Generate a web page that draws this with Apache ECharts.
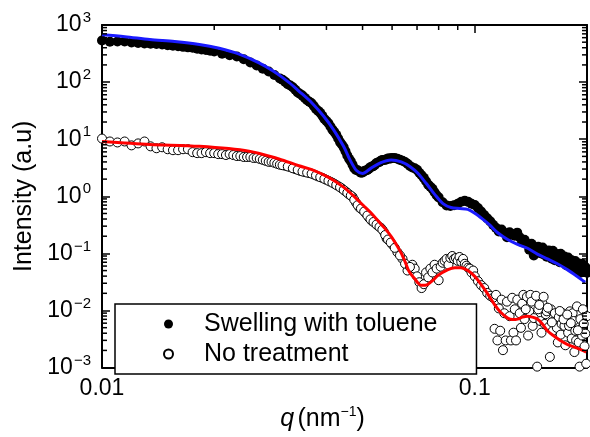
<!DOCTYPE html>
<html>
<head>
<meta charset="utf-8">
<script src="https://cdn.jsdelivr.net/npm/echarts@6/dist/echarts.min.js"></script>
<style>
html, body { margin: 0; padding: 0; background: #fff; }
#chart { width: 590px; height: 437px; }
</style>
</head>
<body>
<div id="chart"></div>
<script>
// swelling with toluene (filled circles)
var qSwell = [0.0100, 0.0105, 0.0110, 0.0115, 0.0120, 0.0125, 0.0130, 0.0135, 0.0140, 0.0145, 0.0150, 0.0155, 0.0160, 0.0165, 0.0170, 0.0175, 0.0180, 0.0185, 0.0190, 0.0195, 0.0200,
    0.021, 0.022, 0.023, 0.024, 0.025, 0.026, 0.027, 0.028, 0.029, 0.030, 0.031, 0.032, 0.033, 0.034, 0.035, 0.036, 0.037, 0.038, 0.039, 0.040,
    0.041, 0.042, 0.043, 0.044, 0.045, 0.046, 0.047, 0.048, 0.049, 0.050, 0.051, 0.052, 0.053, 0.054, 0.055, 0.056, 0.057, 0.058, 0.059, 0.060,
    0.062, 0.064, 0.066, 0.068, 0.070, 0.072, 0.074, 0.076, 0.078, 0.080, 0.082, 0.084, 0.086, 0.088, 0.090, 0.092, 0.094, 0.096, 0.098, 0.100,
    0.102, 0.104, 0.106, 0.108, 0.110, 0.112, 0.114, 0.116, 0.118, 0.120, 0.122, 0.124, 0.126, 0.128, 0.130, 0.132, 0.134, 0.136, 0.138, 0.140,
    0.141, 0.142, 0.144, 0.146, 0.147, 0.148, 0.150, 0.152, 0.153, 0.154, 0.156, 0.157, 0.158, 0.160, 0.161, 0.162, 0.164, 0.165, 0.166, 0.168,
    0.169, 0.170, 0.172, 0.173, 0.174, 0.176, 0.177, 0.178, 0.180, 0.181, 0.182, 0.184, 0.185, 0.186, 0.188, 0.189, 0.190, 0.192, 0.193, 0.194,
    0.196, 0.197, 0.198, 0.200];
var iSwell = [535, 510, 514, 515, 494, 485, 475, 471, 464, 454, 443, 433, 423, 414, 406, 399, 383, 372, 364, 353, 344,
    314, 296, 280, 251, 221, 195, 172, 153, 133, 116, 101, 87.3, 73.2, 61.8, 52.9, 45.4, 38.1, 31.3, 25.7, 20.8,
    16.7, 13.4, 10.3, 8.08, 6.14, 4.55, 3.57, 2.90, 2.72, 2.61, 2.83, 3.05, 3.31, 3.59, 3.90, 4.20, 4.32, 4.46, 4.60, 4.69,
    4.56, 4.20, 3.71, 3.19, 2.92, 2.34, 1.83, 1.47, 1.18, 0.957, 0.787, 0.691, 0.675, 0.700, 0.739, 0.805, 0.838, 0.799, 0.742, 0.702,
    0.624, 0.540, 0.469, 0.411, 0.364, 0.316, 0.280, 0.241, 0.263, 0.230, 0.192, 0.234, 0.219, 0.204, 0.231, 0.191, 0.157, 0.174, 0.147, 0.116,
    0.135, 0.147, 0.0917, 0.121, 0.105, 0.131, 0.1004, 0.127, 0.096, 0.106, 0.0872, 0.101, 0.112, 0.0896, 0.081, 0.111, 0.0760, 0.089, 0.0976, 0.0775,
    0.070, 0.0984, 0.0777, 0.085, 0.0879, 0.0618, 0.068, 0.0848, 0.0623, 0.071, 0.0760, 0.0537, 0.060, 0.0737, 0.0522, 0.064, 0.0668, 0.0457, 0.052, 0.0658,
    0.0470, 0.054, 0.0578, 0.0460];
// extra filled points where the band is steep and dense
var qSwellDense = [0.0305, 0.0315, 0.0325, 0.0335, 0.0345, 0.0355, 0.0365, 0.0375, 0.0385, 0.0395, 0.0405, 0.0415, 0.0425, 0.0435, 0.0445,
    0.0455, 0.0465, 0.0475, 0.0485, 0.0495, 0.0505, 0.0515, 0.0525, 0.0535, 0.0545, 0.0555, 0.0565, 0.0575, 0.0585, 0.0595,
    0.061, 0.063, 0.065, 0.067, 0.069, 0.071, 0.073, 0.075, 0.077, 0.079];
var iSwellDense = [110, 92, 81, 66, 58, 48, 42.5, 33.8, 29.0, 22.6, 19.0, 14.7, 12.0, 8.9, 7.2,
    5.2, 4.1, 3.1, 2.85, 2.58, 2.76, 2.88, 3.24, 3.40, 3.82, 4.00, 4.34, 4.35, 4.60, 4.60,
    4.70, 4.35, 4.00, 3.40, 3.10, 2.58, 2.10, 1.60, 1.35, 1.04];

// no treatment (open circles)
var qNoTreat = [0.0100, 0.0105, 0.0110, 0.0115, 0.0120, 0.0125, 0.0130, 0.0135, 0.0140, 0.0145, 0.0150, 0.0155, 0.0160, 0.0165, 0.0170, 0.0175, 0.0180, 0.0185, 0.0190, 0.0195, 0.0200,
    0.0205, 0.0210, 0.0215, 0.0220, 0.0225, 0.0230, 0.0235, 0.0240, 0.0245, 0.0250, 0.0255, 0.0260, 0.0265, 0.0270, 0.0275, 0.0280, 0.0285, 0.0290, 0.0295, 0.0300,
    0.031, 0.032, 0.033, 0.034, 0.035, 0.036, 0.037, 0.038, 0.039, 0.040, 0.041, 0.042, 0.043, 0.044, 0.045, 0.046, 0.047, 0.048, 0.049, 0.050,
    0.051, 0.052, 0.053, 0.054, 0.055, 0.056, 0.057, 0.058, 0.059, 0.060,
    0.062, 0.064, 0.066, 0.068, 0.069, 0.070, 0.071, 0.072, 0.073, 0.074, 0.075, 0.076, 0.077, 0.078, 0.079, 0.080, 0.081, 0.082, 0.083, 0.084,
    0.085, 0.086, 0.087, 0.088, 0.089, 0.090, 0.091, 0.092, 0.093, 0.094, 0.095, 0.096, 0.097, 0.098, 0.099, 0.100, 0.102, 0.104, 0.106, 0.108, 0.110,
    0.112, 0.113, 0.114, 0.115, 0.116, 0.117, 0.118, 0.119, 0.120, 0.121, 0.122, 0.124, 0.125, 0.126, 0.127, 0.128, 0.129, 0.130, 0.132, 0.133,
    0.134, 0.135, 0.136, 0.138, 0.139, 0.140, 0.141, 0.142, 0.143, 0.144, 0.146, 0.147, 0.148, 0.150, 0.151, 0.152, 0.153, 0.154, 0.155, 0.156,
    0.158, 0.159, 0.160, 0.162, 0.163, 0.164, 0.166, 0.167, 0.168, 0.170, 0.171, 0.172, 0.174, 0.175, 0.176, 0.178, 0.179, 0.180, 0.182, 0.183,
    0.184, 0.185, 0.186, 0.187, 0.188, 0.190, 0.191, 0.192, 0.193, 0.194, 0.195, 0.196, 0.197, 0.198, 0.199, 0.200];
var iNoTreat = [10.26, 9.12, 8.77, 9.12, 7.80, 8.44, 9.12, 7.50, 6.94, 7.22, 6.67, 6.42, 6.42, 6.67, 6.67, 5.93, 5.70, 5.70, 5.93, 5.70, 5.70,
    5.48, 5.48, 5.28, 5.48, 5.28, 5.07, 5.07, 4.88, 4.88, 4.88, 4.69, 4.69, 4.51, 4.34, 4.17, 4.01, 4.01, 3.86, 3.71, 3.57,
    3.43, 3.23, 2.99, 2.79, 2.66, 2.56, 2.41, 2.23, 2.10, 1.94, 1.80, 1.66, 1.51, 1.37, 1.22, 1.08, 0.980, 0.775, 0.637, 0.578,
    0.504, 0.423, 0.368, 0.341, 0.303, 0.280, 0.240, 0.182, 0.168, 0.144,
    0.105, 0.0801, 0.0501, 0.0633, 0.0541, 0.0396, 0.0313, 0.0247, 0.0289, 0.0463, 0.0381, 0.0541, 0.0463, 0.0633, 0.0541, 0.0339, 0.0585, 0.0685, 0.0741, 0.0801,
    0.0633, 0.0833, 0.0901, 0.0801, 0.0833, 0.0741, 0.0866, 0.0712, 0.0801, 0.0658, 0.0609, 0.0563, 0.0541, 0.0463, 0.0501, 0.0396, 0.0326, 0.0278, 0.0247, 0.0203, 0.0181,
    0.0167, 0.00478, 0.0188, 0.00299, 0.0109, 0.00442, 0.0155, 0.00202, 0.00895, 0.00299, 0.0143, 0.00796, 0.00299, 0.0167, 0.00409, 0.0105, 0.00299, 0.0155, 0.00895, 0.00497,
    0.0132, 0.0188, 0.00707, 0.0174, 0.00364, 0.00967, 0.0188, 0.0143, 0.00538, 0.00736, 0.0181, 0.00104, 0.0105, 0.00654, 0.00409, 0.0132, 0.0174, 0.00582, 0.00860, 0.00967,
    0.00517, 0.00154, 0.0105, 0.00442, 0.00654, 0.00895, 0.00497, 0.00276, 0.00765, 0.00378, 0.00582, 0.00895, 0.00538, 0.00246, 0.00707, 0.00409, 0.00538, 0.00967, 0.00323, 0.00895,
    0.00654, 0.00187, 0.00442, 0.00299, 0.0118, 0.00276, 0.00104, 0.00707, 0.00478, 0.00364, 0.0105, 0.00582, 0.00236, 0.00393, 0.00117, 0.00796];
// extra open points where the data are dense
var qNoTreatDense = [0.0305, 0.0315, 0.0325, 0.0335, 0.0345, 0.0355, 0.0365, 0.0375, 0.0385, 0.0395, 0.0405, 0.0415, 0.0425, 0.0435, 0.0445,
    0.0455, 0.0465, 0.0475, 0.0485, 0.0495, 0.0505, 0.0515, 0.0525, 0.0535, 0.0545, 0.0555, 0.0565, 0.0575, 0.0585, 0.0595,
    0.061, 0.063, 0.065, 0.067, 0.137, 0.149, 0.157, 0.161, 0.169, 0.173, 0.177, 0.181, 0.189];
var iNoTreatDense = [3.50, 3.33, 3.10, 2.90, 2.72, 2.60, 2.49, 2.32, 2.16, 2.02, 1.87, 1.73, 1.58, 1.44, 1.29,
    1.15, 1.03, 0.87, 0.70, 0.61, 0.54, 0.46, 0.395, 0.355, 0.32, 0.29, 0.26, 0.21, 0.175, 0.155,
    0.125, 0.092, 0.066, 0.058, 0.0105, 0.0125, 0.0112, 0.0062, 0.0098, 0.0070, 0.0085, 0.0060, 0.0045];

// fitted curves
var qSwellFit = [0.0100, 0.01152, 0.01343, 0.01566, 0.01825, 0.02063, 0.02333, 0.02638, 0.02893, 0.03172, 0.03373, 0.03653, 0.03933, 0.04182, 0.04446,
    0.04642, 0.04817, 0.04997, 0.05248, 0.0558, 0.0597, 0.06349, 0.0671, 0.07047, 0.07402, 0.07823, 0.08217, 0.0863, 0.0912, 0.0958,
    0.1, 0.105, 0.1096, 0.1152, 0.1225, 0.1302, 0.1385, 0.1472, 0.1566, 0.1665, 0.177, 0.1883, 0.1977];
var iSwellFit = [676, 625, 556, 514, 457, 391, 309, 217, 153, 99, 69.8, 43.6, 25.2, 14.6, 7.5,
    4.17, 2.82, 2.51, 3.05, 3.86, 4.34, 4.01, 3.30, 2.51, 1.69, 1.06, 0.745, 0.637, 0.612, 0.589,
    0.504, 0.398, 0.315, 0.230, 0.175, 0.144, 0.123, 0.0973, 0.080, 0.0658, 0.052, 0.0395, 0.0313];
var qNoTreatFit = [0.0100, 0.01343, 0.01825, 0.02481, 0.02984, 0.03373, 0.03653, 0.04055, 0.04446, 0.04727, 0.05026, 0.05248, 0.05511, 0.05754, 0.05970,
    0.06155, 0.06349, 0.06504, 0.06626, 0.06750, 0.06918, 0.07047, 0.07178, 0.07356, 0.07493, 0.07727, 0.07967, 0.08472, 0.08846, 0.09178,
    0.0958, 0.1, 0.1038, 0.1083, 0.1130, 0.1173, 0.1225, 0.1263, 0.1302, 0.1343, 0.1385, 0.1428, 0.1472, 0.1518, 0.1566, 0.1624, 0.1696, 0.1770, 0.1883, 0.1990];
var iNoTreatFit = [9.12, 8.11, 7.50, 6.17, 4.51, 3.43, 2.93, 2.14, 1.45, 1.02, 0.689, 0.524, 0.368, 0.269, 0.197,
    0.144, 0.1013, 0.0712, 0.0521, 0.0428, 0.0352, 0.0301, 0.0278, 0.0278, 0.0289, 0.0339, 0.0412, 0.0521, 0.0563, 0.0563,
    0.0501, 0.0396, 0.0289, 0.0196, 0.0127, 0.00930, 0.00736, 0.00694, 0.00707, 0.00765, 0.00796, 0.00765, 0.00707, 0.00582, 0.00442, 0.00364, 0.00299, 0.00256, 0.00219, 0.00187];

var xRange = [0.01, 0.2];
var yRange = [0.001, 1000];
var minorSteps = [2, 3, 4, 5, 6, 7, 8, 9];
var seriesNames = ['Swelling with toluene', 'No treatment'];

var FONT = '"Liberation Sans", Arial, sans-serif';
var chart = echarts.init(document.getElementById('chart'));

function pairs(q, v) {
    return q.map(function (x, k) { return [x, v[k]]; });
}
function isDecade(v) {
    var e = Math.log10(v);
    return Math.abs(e - Math.round(e)) < 1e-6;
}

// minor ticks at 2..9 of every decade, inward, on all four sides
var minorTicks = [];
minorSteps.forEach(function (m) {
    minorTicks.push([m * 0.01, yRange[0], 0], [m * 0.01, yRange[1], 1]);
    for (var e = -3; e < 3; e++) {
        var v = m * Math.pow(10, e);
        minorTicks.push([xRange[0], v, 2], [xRange[1], v, 3]);
    }
});

function axisBase(pos, range, show) {
    return {
        type: 'log', logBase: 10, position: pos,
        min: range[0], max: range[1],
        axisLine: {show: true, onZero: false, lineStyle: {color: '#000', width: 2}},
        axisTick: {show: true, inside: true, length: 8, lineStyle: {color: '#000', width: 1.5}},
        splitLine: {show: false},
        minorTick: {show: false},
        axisLabel: {show: show}
    };
}

var xMain = axisBase('bottom', xRange, true);
xMain.axisLabel = {
    show: true, margin: 10, color: '#000', fontSize: 23, fontFamily: FONT,
    formatter: function (v) { return isDecade(v) ? String(+v.toPrecision(6)) : ''; }
};
xMain.name = '{i|q} {n|(nm}{s|\u22121}{n|)}';
xMain.nameLocation = 'middle';
xMain.nameGap = 34;
xMain.nameTextStyle = {
    color: '#000', padding: [0, 44, 0, 0],
    rich: {
        i: {fontSize: 25, fontStyle: 'italic', fontFamily: FONT, color: '#000'},
        n: {fontSize: 25, fontFamily: FONT, color: '#000'},
        s: {fontSize: 14, fontFamily: FONT, color: '#000', padding: [0, 0, 14, 0]}
    }
};

var yMain = axisBase('left', yRange, true);
yMain.splitNumber = 6;
yMain.axisLabel = {
    show: true, margin: 11,
    formatter: function (v) {
        if (!isDecade(v)) return '';
        var e = Math.round(Math.log10(v));
        return '{b|10}{s|' + (e < 0 ? '\u2212' + (-e) : e) + '}';
    },
    rich: {
        b: {fontSize: 23, fontFamily: FONT, color: '#000'},
        s: {fontSize: 15, fontFamily: FONT, color: '#000', padding: [0, 0, 14, 1]}
    }
};
yMain.name = 'Intensity (a.u)';
yMain.nameLocation = 'middle';
yMain.nameGap = 62;
yMain.nameTextStyle = {color: '#000', fontSize: 25, fontFamily: FONT};

var xTop = axisBase('top', xRange, false);
var yRight = axisBase('right', yRange, false);
yRight.splitNumber = 6;

var option = {
    animation: false,
    backgroundColor: '#fff',
    grid: {left: 102, right: 2, top: 25, bottom: 59, containLabel: false},
    xAxis: [xMain, xTop],
    yAxis: [yMain, yRight],
    legend: {
        data: seriesNames,
        orient: 'vertical', left: 115, top: 304,
        padding: [7, 39, 7, 48],
        itemWidth: 9, itemHeight: 9, itemGap: 4,
        borderColor: '#000', borderWidth: 1.5, backgroundColor: '#fff',
        selectedMode: false,
        textStyle: {color: '#000', fontSize: 25, fontFamily: FONT, lineHeight: 26, padding: [0, 0, 0, 26]},
        z: 10
    },
    series: [
        {
            name: seriesNames[0], type: 'scatter',
            data: pairs(qSwell, iSwell).concat(pairs(qSwellDense, iSwellDense)),
            symbol: 'circle', symbolSize: 10,
            itemStyle: {color: '#000', opacity: 1},
            emphasis: {disabled: true}, z: 2
        },
        {
            name: seriesNames[1], type: 'scatter',
            data: pairs(qNoTreat, iNoTreat).concat(pairs(qNoTreatDense, iNoTreatDense)),
            symbol: 'circle', symbolSize: 9,
            itemStyle: {color: '#fff', borderColor: '#000', borderWidth: 1, opacity: 1},
            emphasis: {disabled: true}, z: 2
        },
        {
            name: 'fit swelling', type: 'line',
            data: pairs(qSwellFit, iSwellFit),
            showSymbol: false, smooth: 0.3,
            lineStyle: {color: '#1a1aff', width: 3},
            emphasis: {disabled: true}, z: 3
        },
        {
            name: 'fit no treatment', type: 'line',
            data: pairs(qNoTreatFit, iNoTreatFit),
            showSymbol: false, smooth: 0.3,
            lineStyle: {color: '#ff0000', width: 3},
            emphasis: {disabled: true}, z: 3
        },
        {
            name: 'minor ticks', type: 'custom',
            data: minorTicks, silent: true, z: 4,
            encode: {x: 0, y: 1},
            renderItem: function (params, api) {
                var p = api.coord([api.value(0), api.value(1)]);
                var d = [[0, -5], [0, 5], [5, 0], [-5, 0]][api.value(2)];
                return {
                    type: 'line',
                    shape: {x1: p[0], y1: p[1], x2: p[0] + d[0], y2: p[1] + d[1]},
                    style: {stroke: '#000', lineWidth: 1.5}
                };
            }
        }
    ]
};

chart.setOption(option);
</script>
</body>
</html>
